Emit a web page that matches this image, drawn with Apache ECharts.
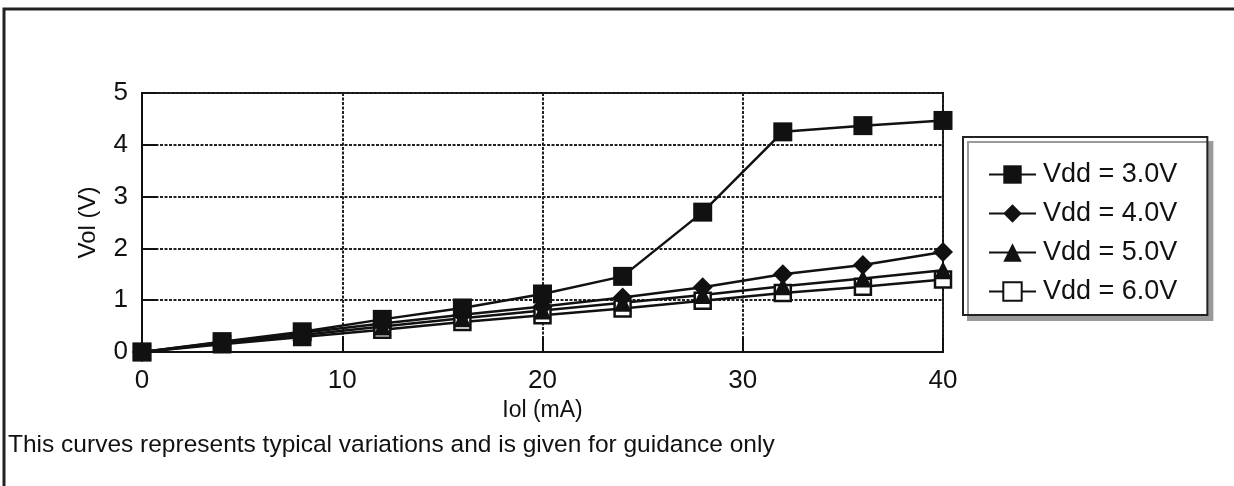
<!DOCTYPE html>
<html>
<head>
<meta charset="utf-8">
<script src="https://cdn.jsdelivr.net/npm/echarts@6/dist/echarts.min.js"></script>
<style>
  html, body { margin: 0; padding: 0; background: #fff; }
  #chart { width: 1234px; height: 486px; }
</style>
</head>
<body>
<div id="chart"></div>
<script>
// Iol (mA) sample points
const iol = [0, 4, 8, 12, 16, 20, 24, 28, 32, 36, 40]
// Vol (V) per supply voltage
const vdd30 = [0, 0.2, 0.39, 0.63, 0.85, 1.12, 1.46, 2.7, 4.25, 4.37, 4.47]
const vdd40 = [0, 0.19, 0.37, 0.55, 0.72, 0.88, 1.05, 1.25, 1.5, 1.68, 1.93]
const vdd50 = [0, 0.17, 0.33, 0.49, 0.65, 0.8, 0.95, 1.1, 1.27, 1.42, 1.58]
const vdd60 = [0, 0.15, 0.29, 0.43, 0.58, 0.71, 0.84, 0.99, 1.14, 1.26, 1.4]
const names = ['Vdd = 3.0V', 'Vdd = 4.0V', 'Vdd = 5.0V', 'Vdd = 6.0V']

const font = 'Liberation Sans, Arial, sans-serif'
const pairs = (ys) => iol.map((x, i) => [x, ys[i]])

const chart = echarts.init(document.getElementById('chart'))

const line = (name, ys, symbol, size, fill) => ({
  name,
  type: 'line',
  data: pairs(ys),
  symbol,
  symbolSize: size,
  showAllSymbol: true,
  lineStyle: { color: '#111', width: 2.5 },
  itemStyle: { color: fill, borderColor: '#111', borderWidth: fill === '#fff' ? 2.5 : 0 },
  emphasis: { disabled: true },
  animation: false,
})

chart.setOption({
  backgroundColor: '#fff',
  animation: false,
  textStyle: { fontFamily: font, color: '#111' },
  grid: {
    left: 142,
    right: 291,
    top: 93,
    bottom: 134,
    show: true,
    borderColor: '#111',
    borderWidth: 2,
  },
  legend: {
    orient: 'vertical',
    left: 963,
    top: 137,
    width: 246,
    padding: [24, 30, 10, 25],
    itemGap: 12,
    itemWidth: 47,
    itemHeight: 23,
    backgroundColor: '#fff',
    borderColor: '#222',
    borderWidth: 2,
    borderRadius: 0,
    shadowColor: '#9a9a9a',
    shadowBlur: 0,
    shadowOffsetX: 5,
    shadowOffsetY: 5,
    textStyle: { fontFamily: font, fontSize: 27, color: '#111', padding: [0, 0, 0, 2] },
    data: names,
  },
  xAxis: {
    type: 'value',
    min: 0,
    max: 40,
    interval: 10,
    name: 'Iol (mA)',
    nameLocation: 'middle',
    nameGap: 47,
    nameTextStyle: { fontFamily: font, fontSize: 23, color: '#111' },
    axisLine: { lineStyle: { color: '#111', width: 2 } },
    axisTick: { inside: true, length: 15, lineStyle: { color: '#111', width: 2 } },
    axisLabel: { fontFamily: font, fontSize: 26, color: '#111', margin: 16 },
    splitLine: { show: true, lineStyle: { color: '#222', width: 2, type: [3, 1.5] } },
  },
  yAxis: {
    type: 'value',
    min: 0,
    max: 5,
    interval: 1,
    name: 'Vol (V)',
    nameLocation: 'middle',
    nameGap: 42,
    nameTextStyle: { fontFamily: font, fontSize: 24, color: '#111' },
    axisLine: { lineStyle: { color: '#111', width: 2 } },
    axisTick: { inside: true, length: 15, lineStyle: { color: '#111', width: 2 } },
    axisLabel: { fontFamily: font, fontSize: 26, color: '#111', margin: 14 },
    splitLine: { show: true, lineStyle: { color: '#222', width: 2, type: [3, 1.5] } },
  },
  graphic: [
    {
      type: 'polyline',
      shape: { points: [[4, 500], [4, 9], [1240, 9]] },
      style: { stroke: '#222', lineWidth: 3, fill: null },
      silent: true,
    },
    {
      type: 'text',
      left: 8,
      top: 433,
      style: {
        text: 'This curves represents typical variations and is given for guidance only',
        font: '24.5px ' + font,
        fill: '#111',
      },
      silent: true,
    },
  ],
  series: [
    line(names[3], vdd60, 'rect', 16, '#fff'),
    line(names[2], vdd50, 'triangle', 18, '#111'),
    line(names[1], vdd40, 'diamond', 20, '#111'),
    line(names[0], vdd30, 'rect', 19, '#111'),
  ],
})
</script>
</body>
</html>
